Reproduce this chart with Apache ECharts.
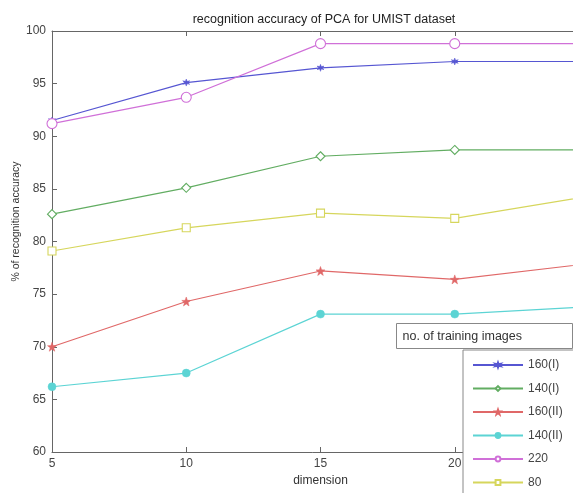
<!DOCTYPE html>
<html>
<head>
<meta charset="utf-8">
<script src="https://cdn.jsdelivr.net/npm/echarts@6/dist/echarts.min.js"></script>
<style>
html,body{margin:0;padding:0;background:#fff;}
#c{width:573px;height:493px;}
</style>
</head>
<body>
<div id="c"></div>
<script>
const dims = [5, 10, 15, 20, 25];
const names = ['160(I)', '140(I)', '160(II)', '140(II)', '220', '80'];
const s160I  = [91.5, 95.1, 96.5, 97.1, 97.1];
const s140I  = [82.6, 85.1, 88.1, 88.7, 88.7];
const s160II = [70.0, 74.3, 77.2, 76.4, 77.9];
const s140II = [66.2, 67.5, 73.1, 73.1, 73.8];
const s220   = [91.2, 93.7, 98.8, 98.8, 98.8];
const s80    = [79.1, 81.3, 82.7, 82.2, 84.3];
const titleText = 'recognition accuracy of PCA for UMIST dataset';
const xName = 'dimension';
const yName = '% of recognition accuracy';
const legendTitle = 'no. of training images';

const values = [s160I, s140I, s160II, s140II, s220, s80];
const colors = ['#5656d2', '#62ad62', '#e06868', '#5cd4d4', '#d070d8', '#d6d65c'];
const asterisk = 'path://M0,-10L2,-3.5L8.7,-5L4,0L8.7,5L2,3.5L0,10L-2,3.5L-8.7,5L-4,0L-8.7,-5L-2,-3.5Z';
const star5 = 'path://M0,-10L2.35,-3.24L9.51,-3.09L3.8,1.24L5.88,8.09L0,4L-5.88,8.09L-3.8,1.24L-9.51,-3.09L-2.35,-3.24Z';
const symbols = [asterisk, 'diamond', star5, 'circle', 'circle', 'rect'];
const symSizes = [7, 9, 9, 8, 10, 8];
const hollow = [false, true, false, false, true, true];

const FONT = 'Liberation Sans, Arial, sans-serif';
const chart = echarts.init(document.getElementById('c'));

const series = names.map((n, i) => ({
  name: n,
  type: 'line',
  xAxisIndex: 0,
  yAxisIndex: 0,
  data: dims.map((d, j) => [d, values[i][j]]),
  symbol: symbols[i],
  symbolSize: symSizes[i],
  showAllSymbol: true,
  lineStyle: { color: colors[i], width: 1.2 },
  itemStyle: hollow[i]
    ? { color: '#fff', borderColor: colors[i], borderWidth: 1.1 }
    : { color: colors[i], borderColor: colors[i], borderWidth: 0.5 },
  emphasis: { disabled: true },
  animation: false,
  z: 3
}));

chart.setOption({
  animation: false,
  backgroundColor: '#fff',
  textStyle: { fontFamily: FONT },
  title: {
    text: titleText,
    left: 319, top: 8, textAlign: 'center',
    textStyle: { fontSize: 12.5, fontWeight: 'normal', color: '#222', fontFamily: FONT }
  },
  grid: { left: 52, width: 537, top: 31, height: 421, containLabel: false, outerBoundsMode: 'none' },
  xAxis: [{
    type: 'value', min: 5, max: 25, interval: 5, position: 'bottom',
    name: xName, nameLocation: 'middle', nameGap: 20,
    nameTextStyle: { fontSize: 12, color: '#333', fontFamily: FONT },
    axisLine: { lineStyle: { color: '#666', width: 1 } },
    axisTick: { inside: true, length: 5, lineStyle: { color: '#666' } },
    axisLabel: { fontSize: 12, color: '#444', margin: 6, fontFamily: FONT },
    splitLine: { show: false }
  }, {
    type: 'value', min: 5, max: 25, interval: 5, position: 'top',
    axisLine: { lineStyle: { color: '#666', width: 1 } },
    axisTick: { inside: true, length: 5, lineStyle: { color: '#666' } },
    axisLabel: { show: false },
    splitLine: { show: false }
  }],
  yAxis: [{
    type: 'value', min: 60, max: 100, interval: 5,
    name: yName, nameLocation: 'middle', nameGap: 30, nameRotate: 90,
    nameMoveOverlap: false,
    nameTextStyle: { fontSize: 10.5, color: '#333', fontFamily: FONT, padding: [0, 0, 0, 40] },
    axisLine: { show: true, lineStyle: { color: '#666', width: 1 } },
    axisTick: { show: true, inside: true, length: 5, lineStyle: { color: '#666' } },
    axisLabel: { fontSize: 12, color: '#444', margin: 6, fontFamily: FONT },
    splitLine: { show: false }
  }],
  legend: {
    orient: 'vertical',
    left: 463, top: 350, height: 170,
    padding: [8, 60, 30, 9],
    itemWidth: 50, itemHeight: 6, itemGap: 9.5,
    backgroundColor: '#fff',
    borderColor: '#888', borderWidth: 1,
    textStyle: { fontSize: 12, color: '#444', fontFamily: FONT, lineHeight: 14 },
    data: names,
    selectedMode: false
  },
  graphic: [{
    type: 'group', left: 396, top: 323, z: 10,
    children: [
      { type: 'rect', shape: { x: 0, y: 0, width: 176, height: 25 },
        style: { fill: '#fff', stroke: '#888', lineWidth: 1 } },
      { type: 'text', x: 6, y: 13,
        style: { text: legendTitle, fontSize: 12.5, fill: '#333', fontFamily: FONT, verticalAlign: 'middle' } }
    ]
  }],
  series: series
});
</script>
</body>
</html>
